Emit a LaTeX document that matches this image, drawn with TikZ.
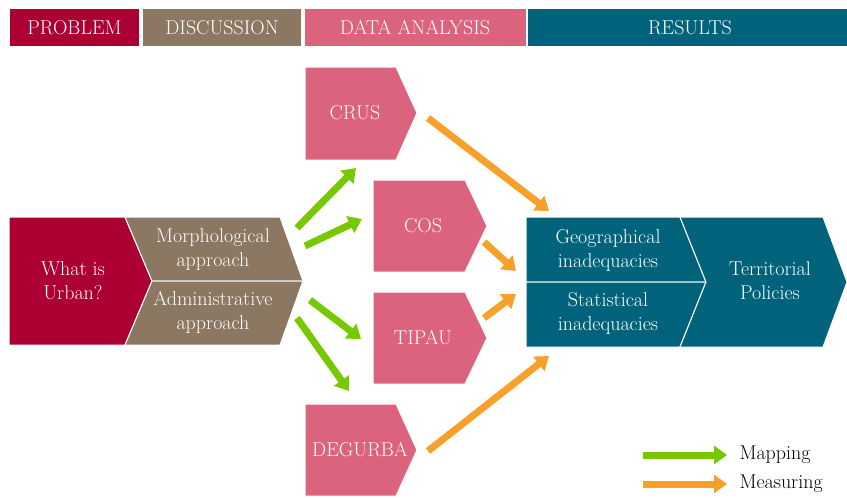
\documentclass[tikz,border=0pt]{standalone}
\usepackage{tikz}
\usepackage{xcolor}
\usetikzlibrary{arrows.meta}

\definecolor{urbanred}{HTML}{AD0032}
\definecolor{discbrown}{HTML}{8B7762}
\definecolor{datapink}{HTML}{DC637D}
\definecolor{resteal}{HTML}{00637B}
\definecolor{mapgreen}{HTML}{77C800}
\definecolor{measorange}{HTML}{F7A12A}

\tikzset{
  chev/.style={draw=white, line width=1pt},
  label/.style={text=white, align=center, font=\fontsize{20}{24}\selectfont},
  legend/.style={text=black, anchor=west, font=\fontsize{20}{24}\selectfont},
  mapping/.style={draw=mapgreen, line width=7pt, -{Triangle[length=13pt,width=18pt]}},
  measuring/.style={draw=measorange, line width=7pt, -{Triangle[length=13pt,width=18pt]}},
}

\begin{document}
\begin{tikzpicture}[x=1pt, y=-1pt]
    \useasboundingbox (0,0) rectangle (847,498);

    % header bar
    \fill[urbanred] (10,9) rectangle (139,46);
    \fill[discbrown] (143,9) rectangle (301,46);
    \fill[datapink] (305,9) rectangle (526,46);
    \fill[resteal] (528,9) rectangle (847,46);
    \node[label] (hprob) at (74.5,27.5) {PROBLEM};
    \node[label] (hdisc) at (222,27.5) {DISCUSSION};
    \node[label] (hdata) at (415,27.5) {DATA ANALYSIS};
    \node[label] (hres) at (690,27.5) {RESULTS};

    % problem and discussion
    \fill[urbanred, chev] (9,217) -- (125,217) -- (152,281) -- (125,345) -- (9,345) -- cycle;
    \fill[discbrown, chev] (125,217) -- (280,217) -- (303,281) -- (152,281) -- cycle;
    \fill[discbrown, chev] (152,281) -- (303,281) -- (280,345) -- (125,345) -- cycle;
    \node[label] (urban) at (73,281) {What is\\Urban?};
    \node[label] (morph) at (213,250) {Morphological\\approach};
    \node[label] (admin) at (213,312) {Administrative\\approach};

    % data analysis
    \fill[datapink, chev] (305,67) -- (396,67) -- (417,113) -- (396,160) -- (305,160) -- cycle;
    \fill[datapink, chev] (373,180) -- (465,180) -- (487,226) -- (465,272) -- (373,272) -- cycle;
    \fill[datapink, chev] (373,292) -- (465,292) -- (487,338) -- (465,384) -- (373,384) -- cycle;
    \fill[datapink, chev] (305,404) -- (396,404) -- (417,450) -- (396,496) -- (305,496) -- cycle;
    \node[label] (crus) at (355,113) {CRUS};
    \node[label] (cos) at (423,226) {COS};
    \node[label] (tipau) at (423,338) {TIPAU};
    \node[label] (degurba) at (360,450) {DEGURBA};

    % results
    \fill[resteal, chev] (526,217) -- (680,217) -- (706,282) -- (526,282) -- cycle;
    \fill[resteal, chev] (526,282) -- (706,282) -- (680,347) -- (526,347) -- cycle;
    \fill[resteal, chev] (680,217) -- (823,217) -- (847,282) -- (823,347) -- (680,347) -- (706,282) -- cycle;
    \node[label] (geo) at (608,250) {Geographical\\inadequacies};
    \node[label] (stat) at (608,313) {Statistical\\inadequacies};
    \node[label] (policies) at (770,281) {Territorial\\Policies};

    % arrow ends
    \coordinate (m1a) at (297,228); \coordinate (m1b) at (356,168);
    \coordinate (m2a) at (305,246); \coordinate (m2b) at (362,219);
    \coordinate (m3a) at (310,300); \coordinate (m3b) at (361,339);
    \coordinate (m4a) at (297,318); \coordinate (m4b) at (349,391);
    \coordinate (s1a) at (428,118); \coordinate (s1b) at (549,211);
    \coordinate (s2a) at (484,242); \coordinate (s2b) at (516,271);
    \coordinate (s3a) at (484,318); \coordinate (s3b) at (516,294);
    \coordinate (s4a) at (428,451); \coordinate (s4b) at (549,356);

    \draw[mapping] (m1a) -- (m1b);
    \draw[mapping] (m2a) -- (m2b);
    \draw[mapping] (m3a) -- (m3b);
    \draw[mapping] (m4a) -- (m4b);
    \draw[measuring] (s1a) -- (s1b);
    \draw[measuring] (s2a) -- (s2b);
    \draw[measuring] (s3a) -- (s3b);
    \draw[measuring] (s4a) -- (s4b);

    % legend
    \coordinate (lg1) at (643,455); \coordinate (lg2) at (727,455);
    \coordinate (lo1) at (643,484); \coordinate (lo2) at (727,484);
    \draw[mapping] (lg1) -- (lg2);
    \draw[measuring] (lo1) -- (lo2);
    \node[legend] (lmap) at (736,455) {Mapping};
    \node[legend] (lmeas) at (736,484) {Measuring};
\end{tikzpicture}
\end{document}
